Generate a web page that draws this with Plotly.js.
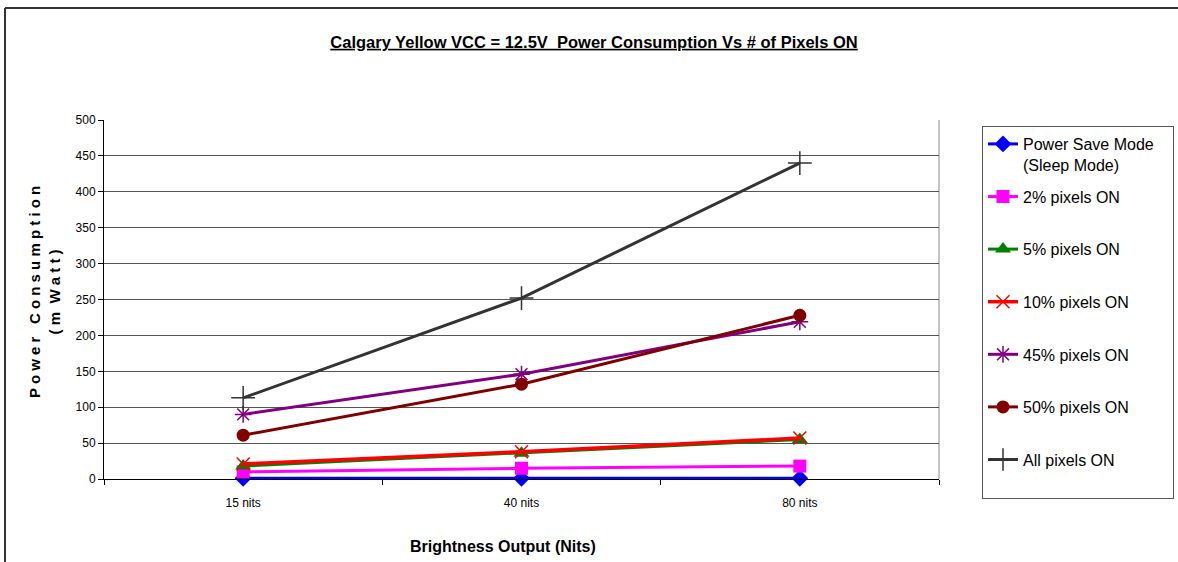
<!DOCTYPE html>
<html>
<head>
<meta charset="utf-8">
<script src="https://cdn.plot.ly/plotly-3.0.1.min.js"></script>
<style>
  html, body { margin: 0; padding: 0; background: #fff; }
  #chart { width: 1178px; height: 562px; }
</style>
</head>
<body>
<div id="chart"></div>
<script>
// ---- data ----
const categories = ["15 nits", "40 nits", "80 nits"];
const seriesNames = [
  "Power Save Mode\u00a0\u00a0\u00a0<br>(Sleep Mode)",
  "2% pixels ON<br>\u00a0",
  "5% pixels ON<br>\u00a0",
  "10% pixels ON<br>\u00a0",
  "45% pixels ON<br>\u00a0",
  "50% pixels ON<br>\u00a0",
  "All pixels ON<br>\u00a0"
];
const powerSave = [1, 1, 1];
const pixels2 = [10, 15, 18];
const pixels5 = [18, 36, 55];
const pixels10 = [21, 38, 57];
const pixels45 = [90, 146, 219];
const pixels50 = [61, 132, 228];
const pixelsAll = [113, 252, 440];
const yTickValues = [0, 50, 100, 150, 200, 250, 300, 350, 400, 450, 500];

const NARROW = '"Liberation Sans Narrow", "Arial Narrow", "Liberation Sans", Arial, sans-serif';
const SANS = '"Liberation Sans", Arial, sans-serif';

const styles = [
  {color: "#0000FF", symbol: "diamond", size: 13, lw: 3},
  {color: "#FF00FF", symbol: "square", size: 13, lw: 3},
  {color: "#008000", symbol: "triangle-up", size: 14, lw: 3},
  {color: "#FF0000", symbol: "x-thin-open", size: 13, lw: 3.5},
  {color: "#800080", symbol: "asterisk-open", size: 14, lw: 3},
  {color: "#800000", symbol: "circle", size: 13, lw: 3},
  {color: "#333333", symbol: "cross-thin-open", size: 17, lw: 3}
];
const seriesValues = [powerSave, pixels2, pixels5, pixels10, pixels45, pixels50, pixelsAll];

const traces = seriesValues.map((vals, i) => {
  const s = styles[i];
  const open = s.symbol.indexOf("open") >= 0;
  return {
    type: "scatter",
    mode: "lines+markers",
    x: categories,
    y: vals,
    name: seriesNames[i],
    legendgroup: "g" + i,
    line: {color: s.color, width: s.lw},
    marker: {
      symbol: s.symbol,
      size: s.size,
      color: s.color,
      line: {color: s.color, width: open ? 1.5 : 0}
    },
    cliponaxis: false
  };
});

// plot area geometry helpers
const L = 104, R = 939, T = 120, B = 479, W = 1178, H = 562;
const px = x => (x - L) / (R - L);
const py = y => (B - y) / (B - T);

const layout = {
  width: W,
  height: H,
  margin: {l: L, r: W - R, t: T, b: H - B, pad: 0, autoexpand: false},
  paper_bgcolor: "#ffffff",
  plot_bgcolor: "#ffffff",
  showlegend: true,
  title: {
    text: "<b><u>Calgary Yellow VCC = 12.5V  Power Consumption Vs # of Pixels ON</u></b>",
    font: {family: SANS, size: 16.5, color: "#000"},
    x: 594 / W, xanchor: "center", xref: "container",
    y: 1 - 42 / H, yanchor: "middle", yref: "container"
  },
  xaxis: {
    type: "category",
    range: [-0.5, 2.5],
    tickson: "boundaries",
    ticks: "outside",
    ticklen: 5,
    tickcolor: "#000",
    ticklabelstandoff: 13,
    showline: true,
    linecolor: "#000",
    linewidth: 1,
    showgrid: false,
    zeroline: false,
    tickfont: {family: NARROW, size: 12, color: "#000"},
    fixedrange: true
  },
  yaxis: {
    range: [0, 500],
    tickvals: yTickValues,
    ticks: "outside",
    ticklen: 5,
    tickcolor: "#000",
    showline: true,
    linecolor: "#000",
    linewidth: 1,
    showgrid: true,
    gridcolor: "#555",
    gridwidth: 1,
    zeroline: false,
    tickfont: {family: NARROW, size: 12, color: "#000"},
    fixedrange: true
  },
  legend: {
    x: px(982), xanchor: "left",
    y: py(126), yanchor: "top",
    xref: "paper", yref: "paper",
    maxheight: 540,
    bgcolor: "#ffffff",
    bordercolor: "#555",
    borderwidth: 1,
    font: {family: NARROW, size: 16, color: "#000"},
    valign: "top",
    tracegroupgap: 8,
    traceorder: "grouped"
  },
  annotations: [
    {
      text: "<b>P o w e r   C o n s u m p t i o n</b><br><b>( m  W a t t )</b>",
      xref: "paper", yref: "paper",
      x: px(44), y: py(292),
      xanchor: "center", yanchor: "middle",
      textangle: -90,
      showarrow: false,
      font: {family: SANS, size: 15, color: "#000"}
    },
    {
      text: "<b>Brightness Output (Nits)</b>",
      xref: "paper", yref: "paper",
      x: px(503), y: py(546),
      xanchor: "center", yanchor: "middle",
      showarrow: false,
      font: {family: NARROW, size: 16, color: "#000"}
    }
  ],
  shapes: [
    // plot-area right border
    {type: "line", xref: "paper", yref: "paper", x0: 1, x1: 1, y0: 0, y1: 1,
     line: {color: "#888", width: 1}, layer: "below"},
    // outer chart border (top and left)
    {type: "line", xref: "paper", yref: "paper", x0: px(5), x1: px(1180), y0: py(8), y1: py(8),
     line: {color: "#333", width: 2}},
    {type: "line", xref: "paper", yref: "paper", x0: px(5), x1: px(5), y0: py(8), y1: py(565),
     line: {color: "#333", width: 2}}
  ]
};

Plotly.newPlot("chart", traces, layout, {displayModeBar: false, staticPlot: true});
</script>
</body>
</html>
